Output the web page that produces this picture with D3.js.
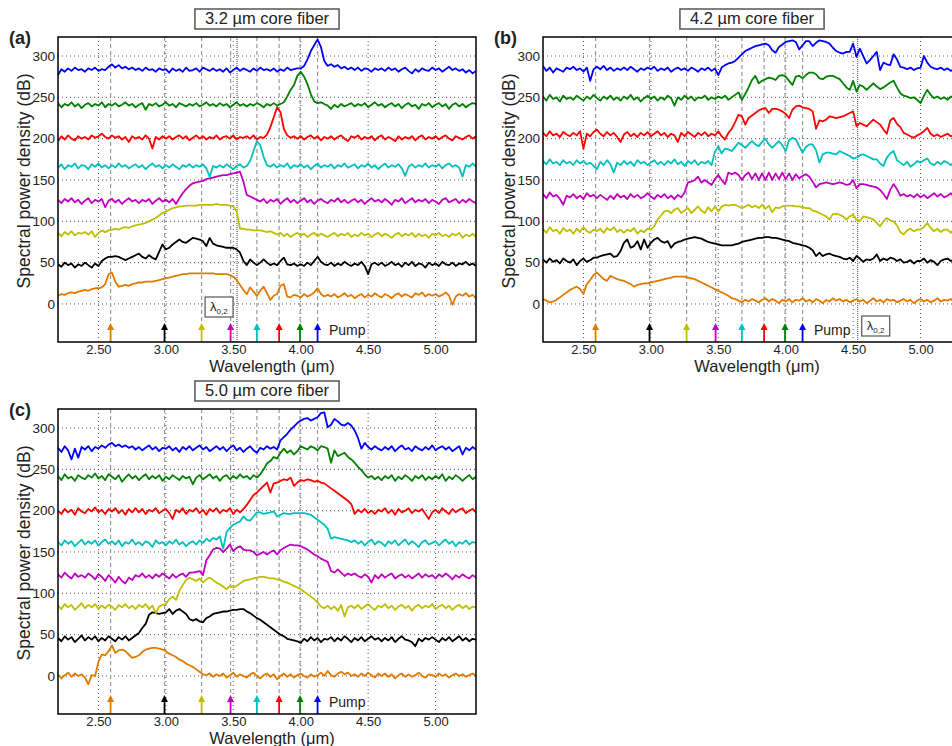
<!DOCTYPE html>
<html>
<head>
<meta charset="utf-8">
<script src="https://cdn.jsdelivr.net/npm/d3@7"></script>
<style>
  body { margin: 0; background: #fff; }
  text { font-family: "Liberation Sans", Arial, sans-serif; }
</style>
</head>
<body>
<script>
// wavelength grid (um), 2.2 .. 5.3 in 0.025 steps
var wl = d3.range(125).map(function(i) { return 2.2 + i * 0.025; });

var xTicks = [2.5, 3.0, 3.5, 4.0, 4.5, 5.0];
var yTicks = [0, 50, 100, 150, 200, 250, 300];

// pump wavelengths, one per spectrum (orange, black, yellow, magenta, cyan, red, green, blue)
var pumpWl = [2.59, 2.99, 3.265, 3.48, 3.675, 3.84, 3.995, 4.125];
var seriesColors = ["#e07b00", "#000000", "#bfbf00", "#bf00bf", "#00bfbf", "#ff0000", "#008000", "#0000ff"];

// ---- panel (a) 3.2 um core ----
var aOrange = [10,12,11,13,14,13,15,16, 17,16,18,19,19,20,24,36, 38,27,21,22,23,22,24,25, 26,26,27,27,27,28,29,30,
  31,32,33,34,35,36,36,37, 37,37,37,37,37,37,37,36, 36,36,36,35,33,29,23,17, 12,20,15,10,16,21,13,5,
  10,12,22,24,9,8,11,10, 8,12,9,11,14,19,12,9, 11,9,12,8,10,13,9,11, 7,10,12,8,11,9,13,10,
  8,12,10,7,11,13,9,12, 10,8,13,11,14,9,12,10, 12,9,11,14,10,-1,9,12, 10,13,9,11,7];
var aBlack = [48,45,50,47,49,44,48,46, 50,47,44,49,46,52,55,57, 57,58,57,55,53,55,57,59, 61,57,55,59,56,54,63,72,
  66,68,72,75,78,75,74,77, 80,79,78,76,70,80,73,71, 70,69,68,68,68,66,62,52, 47,54,50,47,50,54,50,47,
  49,47,52,56,48,47,49,46, 48,46,50,47,52,57,51,48, 47,50,46,49,47,51,48,46, 49,47,51,46,36,48,50,47,
  50,46,48,51,47,49,45,50, 47,51,46,49,48,44,50,47, 49,46,51,48,47,50,46,49, 48,51,47,49,46];
var aYellow = [86,82,87,84,88,83,86,85, 87,84,88,81,86,89,87,89, 90,91,90,92,93,92,94,95, 96,97,98,100,102,104,107,110,
  112,114,116,117,118,118,119,119, 119,119,120,120,120,120,120,121, 120,120,120,119,118,112,91,91, 90,90,89,89,89,88,87,88,
  86,84,86,82,85,81,84,86, 83,85,81,84,86,82,85,83, 81,84,86,82,85,83,86,81, 84,82,86,83,85,81,84,86,
  82,85,83,80,84,86,82,85, 83,86,81,85,82,84,80,85, 83,86,82,84,81,85,83,86, 80,84,82,85,81];
var aMagenta = [126,122,127,124,128,123,126,121, 125,128,122,126,124,127,117,125, 127,123,126,121,125,128,124,126, 122,126,124,127,121,125,128,124,
  126,123,127,121,128,134,139,143, 146,147,148,149,151,152,153,154, 155,156,156,157,158,159,160,148, 132,130,128,126,124,127,122,126,
  124,127,121,125,128,123,126,122, 125,128,123,126,121,125,127,124, 122,126,124,128,123,126,122,125, 127,123,126,121,125,128,124,126,
  123,127,124,120,126,124,128,122, 125,128,123,126,124,127,122,126, 124,121,126,128,123,125,127,122, 126,123,127,124,122];
var aCyan = [165,169,163,168,166,170,164,168, 167,163,169,166,170,165,168,164, 168,165,170,166,168,164,167,169, 165,168,163,167,170,166,168,164,
  168,165,169,166,163,168,166,169, 165,168,166,169,164,154,167,165, 168,165,169,166,163,167,169,165, 167,173,185,197,192,178,168,166,
  169,165,168,166,170,164,168,166, 169,165,168,163,167,170,165,168, 166,169,164,168,166,170,165,167, 169,164,168,166,170,165,168,163,
  167,170,165,168,166,169,164,155, 166,169,165,168,166,170,165,168, 166,169,164,168,170,166,168,165, 154,168,166,170,166];
var aRed = [197,203,199,204,200,198,203,200, 202,199,204,201,203,206,202,200, 204,201,203,199,202,196,203,200, 202,199,204,200,188,202,199,203,
  200,203,199,202,204,200,203,198, 201,204,200,203,199,202,200,204, 199,202,203,200,204,199,202,201, 203,200,204,199,202,201,205,214,
  226,238,232,212,204,201,203,200, 203,199,202,204,200,203,198,202, 200,203,199,202,204,200,197,203, 201,204,199,202,200,203,198,202,
  204,199,202,200,197,203,199,202, 200,203,198,202,204,199,202,200, 203,199,202,204,200,198,203,201, 199,202,204,200,203];
var aGreen = [243,238,242,240,244,239,242,237, 241,243,239,242,240,244,238,242, 240,243,239,241,244,240,242,238, 241,243,235,242,240,243,239,241,
  244,240,242,238,243,241,239,242, 240,243,239,241,244,240,242,239, 243,240,242,238,241,244,240,242, 239,242,240,243,241,238,242,240,
  243,240,242,244,251,259,265,276, 281,275,266,254,245,243,244,242, 240,236,241,238,242,239,241,243, 239,242,240,243,238,241,244,240,
  242,238,241,243,239,242,237,241, 243,239,241,236,242,240,243,238, 241,243,239,242,236,241,243,239, 242,238,241,243,242];
var aBlue = [277,284,281,285,282,286,283,284, 281,285,283,286,282,284,283,287, 290,286,289,285,287,284,286,283, 285,282,286,283,284,281,285,283,
  284,280,285,282,284,281,286,282, 283,285,281,286,284,282,285,282, 284,281,285,280,283,286,282,285, 283,281,285,282,286,283,284,282,
  285,281,284,282,286,283,284,285, 285,288,296,306,313,320,311,294, 288,290,287,289,285,287,284,286, 283,286,282,285,284,281,285,283,
  285,282,286,283,285,281,284,286, 282,279,284,281,285,283,282,286, 283,285,281,284,287,283,285,282, 284,280,283,279,282];

// ---- panel (b) 4.2 um core ----
var bOrange = [6,4,2,3,5,8,11,14, 17,19,21,18,12,24,29,35, 38,34,30,28,34,32,30,29, 28,26,24,21,23,24,25,25,
  26,27,28,29,30,31,32,33, 33,33,33,32,31,30,28,26, 24,22,20,18,16,14,12,10, 7,6,4,2,5,3,6,4,
  2,5,7,3,6,4,1,5, 3,6,2,5,4,7,3,5, 2,6,4,1,5,3,7,4, 6,3,5,2,4,6,3,5,
  1,4,7,3,5,2,6,4, 5,2,4,6,3,5,1,4, 6,3,5,2,4,7,3,5, 4,6,2,5,3];
var bBlack = [54,50,55,51,53,49,55,52, 50,54,47,52,55,51,53,56, 56,58,59,60,61,57,58,64, 74,78,68,70,76,66,78,68,
  74,78,80,76,74,76,68,73, 75,76,78,79,80,81,80,79, 77,75,74,73,72,71,71,71, 71,72,73,75,76,77,78,79,
  80,80,81,81,80,80,79,78, 77,76,74,73,72,71,70,68, 65,58,62,58,60,61,59,58, 57,55,54,56,52,58,55,51,
  54,53,55,60,52,55,53,56, 55,52,54,50,51,53,49,52, 52,55,50,53,51,47,52,54, 55,52,54,51,53];
var bYellow = [91,86,93,88,90,85,92,88, 90,85,91,87,93,88,86,90, 88,91,86,92,89,93,87,90, 86,90,88,92,85,89,87,91,
  90,94,102,107,112,113,110,114, 116,110,113,116,110,114,118,113, 110,117,112,118,112,118,120,119, 120,120,118,116,118,120,117,119,
  116,120,115,119,111,117,116,118, 119,119,119,118,118,117,116,116, 113,112,110,108,106,102,109,109, 108,106,102,106,108,102,100,106,
  105,104,102,98,94,100,104,101, 100,95,87,84,89,91,88,90, 90,93,98,92,88,91,87,90, 90,86,91,88,90];
var bMagenta = [133,128,135,130,132,127,120,131, 129,133,128,131,127,134,130,132, 128,132,129,126,131,127,133,129, 131,127,133,129,132,128,130,134,
  130,127,132,129,133,128,131,127, 132,129,135,147,148,150,154,147, 150,147,144,151,156,150,145,159, 157,159,156,150,156,159,151,158,
  150,158,150,159,150,158,151,159, 151,158,150,157,152,155,157,154, 148,141,145,146,147,146,145,146, 147,146,144,145,150,140,145,145,
  144,143,142,141,138,133,127,138, 145,139,131,133,130,132,129,133, 129,132,128,131,134,130,133,129, 131,134,129,132,130];
var bCyan = [173,169,175,170,172,168,174,170, 172,168,174,170,173,169,171,167, 163,172,168,174,169,159,171,168, 173,169,172,167,174,170,172,168,
  171,174,169,172,168,173,170,175, 169,172,167,173,170,174,168,172, 170,173,168,184,191,182,188,187, 185,190,195,192,189,193,197,193,
  191,196,200,193,189,193,197,192, 185,198,201,199,191,183,190,193, 193,186,171,181,183,183,182,181, 185,183,181,179,176,177,180,181,
  179,177,175,175,170,167,177,182, 185,174,171,168,172,166,169,173, 171,174,176,170,168,172,169,173, 171,168,172,170,173];
var bRed = [207,203,209,204,206,202,208,205, 203,207,204,209,188,206,203,208, 211,206,203,208,204,207,202,196, 205,208,203,206,202,207,204,208,
  203,206,209,204,207,202,206,204, 196,207,203,208,205,202,207,204, 208,203,206,204,209,203,199,207, 212,220,229,227,217,225,228,231,
  234,236,237,231,236,236,235,233, 230,225,235,239,240,238,237,236, 233,212,222,221,223,227,226,225, 226,227,229,231,233,215,219,217,
  215,219,223,220,217,211,206,222, 225,218,214,207,205,203,201,204, 206,209,213,206,203,205,202,204, 206,203,205,202,204];
var bGreen = [251,246,253,248,250,245,252,248, 250,247,252,249,246,251,248,253, 249,246,251,248,252,247,250,246, 251,248,253,247,250,245,249,252,
  248,251,246,250,247,252,249,240, 250,247,252,248,251,246,250,249, 252,247,250,248,251,249,252,247, 250,253,256,247,254,262,271,276,
  267,270,272,274,273,271,276,277, 275,270,265,275,276,273,277,280, 280,278,273,272,275,276,276,274, 272,267,262,259,270,257,265,263,
  259,263,267,263,260,262,265,268, 270,262,255,252,251,249,250,247, 243,252,259,253,249,251,248,250, 247,251,249,252,248];
var bBlue = [288,282,286,280,285,283,281,286, 284,287,283,285,281,286,270,284, 287,284,288,283,286,282,285,283, 286,283,287,284,281,285,283,286,
  284,287,282,285,283,286,281,284, 286,283,285,282,286,284,281,285, 283,286,282,285,277,286,289,291, 292,294,298,302,306,308,310,312,
  313,314,315,313,307,304,311,314, 317,318,319,317,308,313,318,318, 312,316,319,318,317,315,310,306, 304,303,305,305,315,299,309,300,
  291,295,300,305,283,292,290,289, 302,296,287,286,284,286,283,285, 286,300,292,287,285,284,286,283, 285,282,284,281,283];

// ---- panel (c) 5.0 um core ----
var cOrange = [2,-3,1,4,-1,3,0,2, -2,-10,1,0,17,26,25,30, 37,28,31,32,30,26,22,23, 25,29,32,33,34,34,33,32,
  30,27,25,23,20,18,15,13, 11,8,5,2,1,3,-1,2, 0,3,-2,1,4,-1,2,0, -2,2,4,0,-3,1,3,-1,
  2,-4,0,3,-1,2,-2,1, 3,0,-2,2,-1,1,4,0, 6,1,-1,3,5,2,4,0, 2,-1,3,0,4,1,-2,3,
  0,3,-1,2,-3,1,3,-1, 2,-1,1,4,0,-2,2,1, -1,3,0,2,-2,1,3,0, 2,-1,1,3,0];
var cBlack = [46,42,48,44,47,41,45,49, 43,47,44,48,42,46,43,48, 45,42,47,44,48,43,46,49, 52,58,63,74,77,76,75,76,
  77,81,75,79,81,78,75,69, 67,69,66,65,70,72,75,76, 77,78,78,79,80,80,81,81, 78,76,73,70,68,65,62,59,
  56,53,50,48,45,44,43,42, 40,45,42,47,43,46,41,45, 44,47,42,46,43,48,45,41, 46,43,47,42,45,48,44,46,
  42,46,43,47,41,45,48,44, 43,41,36,45,42,46,44,47, 44,41,46,43,47,42,45,48, 43,46,42,45,44];
var cYellow = [85,81,87,83,86,80,84,88, 82,86,83,87,81,85,82,86, 84,80,86,83,87,82,85,81, 86,83,87,81,85,76,84,86,
  87,93,96,92,103,110,116,119, 117,115,118,113,117,119,116,113, 111,108,105,109,107,109,112,115, 116,117,118,119,120,120,119,118,
  118,117,116,114,113,111,109,107, 105,102,99,96,93,89,84,82, 85,81,84,79,86,72,83,85, 82,86,81,84,87,83,80,85,
  83,87,82,85,80,84,86,82, 85,79,84,86,82,85,83,87, 81,84,86,82,85,80,84,86, 82,85,81,84,83];
var cMagenta = [123,119,125,121,118,124,120,122, 119,124,121,117,123,120,115,122, 118,113,120,115,112,119,116,122, 120,124,119,122,118,123,120,124,
  121,118,123,119,122,124,120,125, 125,126,127,122,140,146,153,155, 154,150,154,159,151,155,157,153, 152,152,150,146,148,150,147,150,
  152,147,152,155,157,159,158,158, 157,155,153,150,147,145,142,140, 138,127,125,129,125,121,124,122, 124,121,119,123,120,113,122,118,
  123,119,122,124,118,121,123,119, 122,118,121,124,119,123,120,122, 118,123,120,124,121,117,122,119, 123,120,118,122,119];
var cCyan = [162,158,164,160,163,157,161,165, 159,163,160,164,158,162,165,160, 163,159,164,157,162,160,165,159, 162,158,163,161,156,164,160,162,
  158,163,160,165,159,162,157,161, 163,159,164,161,166,163,167,165, 169,154,174,179,183,185,187,193, 189,188,193,198,198,196,197,198,
  199,193,195,197,196,196,197,197, 197,197,196,195,192,189,186,183, 178,166,168,167,166,165,164,162, 164,160,163,158,162,165,159,163,
  161,157,163,160,164,158,162,165, 159,163,160,156,162,164,159,161, 163,158,162,165,160,163,157,162, 160,164,159,162,161];
var cRed = [200,196,202,198,201,195,203,199, 197,202,199,204,198,201,196,202, 199,203,197,201,195,202,198,203, 198,202,196,201,199,203,197,200,
  202,197,190,201,198,203,196,201, 199,203,197,201,195,202,199,203, 197,201,199,203,196,201,198,202, 207,213,219,222,226,230,234,222,
  233,234,236,238,237,240,230,234, 237,236,238,237,235,236,234,233, 230,227,224,221,218,215,212,208, 196,201,198,202,197,200,196,201,
  199,203,197,201,195,202,198,200, 203,197,201,199,202,196,190,198, 201,197,203,199,196,202,198,201, 203,197,200,202,198];
var cGreen = [242,237,244,239,241,236,243,240, 238,243,240,245,239,242,237,244, 241,238,243,235,240,244,239,242, 237,241,244,238,242,239,243,236,
  241,238,243,240,237,242,239,241, 232,240,243,238,241,244,239,242, 236,241,243,238,242,239,244,240, 242,238,243,240,244,250,257,260,
  265,263,270,275,270,273,268,272, 278,276,274,278,276,273,278,277, 275,258,273,266,268,270,265,262, 258,253,249,244,240,242,238,241,
  237,242,239,243,236,241,238,243, 240,236,242,239,243,237,241,238, 242,239,244,236,241,238,243,240, 236,240,243,238,241];
var cBlue = [276,271,278,273,262,275,264,277, 274,278,272,277,275,279,276,280, 282,278,280,277,279,276,278,274, 277,273,276,279,274,277,272,276,
  275,278,273,276,271,277,274,278, 273,276,279,274,277,272,275,278, 274,277,272,276,279,273,276,271, 275,278,273,270,276,274,278,275,
  277,274,285,289,293,298,302,306, 309,311,312,309,311,313,318,319, 301,304,311,308,304,303,306,303, 297,288,275,282,277,274,278,275,
  273,277,274,278,272,276,279,274, 276,272,278,275,273,277,274,279, 273,276,278,274,277,272,275,278, 268,276,273,277,274];

var panels = [
  { label: "(a)", title: "3.2 \u00b5m core fiber", left: 58, top: 37,
    series: [aOrange, aBlack, aYellow, aMagenta, aCyan, aRed, aGreen, aBlue],
    lambda02: 3.528, lamBoxSide: "left", pumpX: 329 - 58 },
  { label: "(b)", title: "4.2 \u00b5m core fiber", left: 543, top: 37,
    series: [bOrange, bBlack, bYellow, bMagenta, bCyan, bRed, bGreen, bBlue],
    lambda02: 4.534, lamBoxSide: "right", pumpX: 814 - 543 },
  { label: "(c)", title: "5.0 \u00b5m core fiber", left: 58, top: 409,
    series: [cOrange, cBlack, cYellow, cMagenta, cCyan, cRed, cGreen, cBlue],
    lambda02: null, pumpX: 329 - 58 }
];

var W = 418, H = 305;

var svg = d3.select("body").append("svg")
    .attr("width", 952)
    .attr("height", 746);

panels.forEach(function(p, pi) {
  var x = d3.scaleLinear().domain([2.2, 5.3]).range([0, W]);
  var y = d3.scaleLinear().domain([-46, 323]).range([H, 0]);

  var g = svg.append("g")
      .attr("transform", "translate(" + p.left + "," + p.top + ")");

  g.append("clipPath")
      .attr("id", "clip" + pi)
      .append("rect")
      .attr("x", 0).attr("y", 0)
      .attr("width", W).attr("height", H);

  // grid
  g.selectAll(".vgrid").data(xTicks).enter().append("line")
      .attr("x1", function(d) { return x(d); })
      .attr("x2", function(d) { return x(d); })
      .attr("y1", 0).attr("y2", H)
      .attr("stroke", "#555").attr("stroke-width", 1)
      .attr("stroke-dasharray", "1,3");
  g.selectAll(".hgrid").data(yTicks).enter().append("line")
      .attr("x1", 0).attr("x2", W)
      .attr("y1", function(d) { return y(d); })
      .attr("y2", function(d) { return y(d); })
      .attr("stroke", "#555").attr("stroke-width", 1)
      .attr("stroke-dasharray", "1,3");

  // pump dashed guides
  g.selectAll(".pumpline").data(pumpWl).enter().append("line")
      .attr("x1", function(d) { return x(d); })
      .attr("x2", function(d) { return x(d); })
      .attr("y1", 0).attr("y2", H - 19)
      .attr("stroke", "#999").attr("stroke-width", 1.2)
      .attr("stroke-dasharray", "4,3");

  // lambda 0,2 marker
  if (p.lambda02 !== null) {
    g.append("line")
        .attr("x1", x(p.lambda02)).attr("x2", x(p.lambda02))
        .attr("y1", 0).attr("y2", H)
        .attr("stroke", "#444").attr("stroke-width", 1)
        .attr("stroke-dasharray", "1,1");
    var bx = p.lamBoxSide === "left" ? x(p.lambda02) - 32 : x(p.lambda02) + 4;
    var by = p.lamBoxSide === "left" ? 260 : 279;
    g.append("rect")
        .attr("x", bx).attr("y", by)
        .attr("width", 28).attr("height", 20)
        .attr("fill", "#fff").attr("stroke", "#555").attr("stroke-width", 1.2);
    var lt = g.append("text")
        .attr("x", bx + 5).attr("y", by + 14)
        .attr("font-size", 13).attr("fill", "#222");
    lt.append("tspan").text("\u03bb");
    lt.append("tspan").attr("font-size", 8).attr("dy", 3).text("0,2");
  }

  // spectra
  var line = d3.line()
      .x(function(d, i) { return x(wl[i]); })
      .y(function(d) { return y(d); });

  g.append("g").attr("clip-path", "url(#clip" + pi + ")")
    .selectAll("path").data(p.series).enter().append("path")
      .attr("d", line)
      .attr("fill", "none")
      .attr("stroke", function(d, i) { return seriesColors[i]; })
      .attr("stroke-width", 1.8)
      .attr("stroke-linejoin", "round");

  // pump arrows
  var arrows = g.selectAll(".arrow").data(pumpWl).enter().append("g");
  arrows.append("line")
      .attr("x1", function(d) { return x(d); })
      .attr("x2", function(d) { return x(d); })
      .attr("y1", H).attr("y2", H - 14)
      .attr("stroke", function(d, i) { return seriesColors[i]; })
      .attr("stroke-width", 1.8);
  arrows.append("path")
      .attr("d", function(d) {
        var cx = x(d);
        return "M" + (cx - 3.5) + "," + (H - 12) + "L" + cx + "," + (H - 19) + "L" + (cx + 3.5) + "," + (H - 12) + "Z";
      })
      .attr("fill", function(d, i) { return seriesColors[i]; });

  g.append("text")
      .attr("x", p.pumpX).attr("y", H - 7)
      .attr("font-size", 14).attr("fill", "#222")
      .text("Pump");

  // axes
  g.append("g")
      .attr("transform", "translate(0," + H + ")")
      .call(d3.axisBottom(x).tickValues(xTicks).tickFormat(d3.format(".2f")).tickSize(0).tickPadding(3))
      .call(function(a) { a.select(".domain").remove(); })
      .selectAll("text").attr("font-size", 13).attr("fill", "#222")
      .style("font-family", "Liberation Sans, Arial, sans-serif");
  g.append("g")
      .call(d3.axisLeft(y).tickValues(yTicks).tickSize(0).tickPadding(3))
      .call(function(a) { a.select(".domain").remove(); })
      .selectAll("text").attr("font-size", 13.5).attr("fill", "#222")
      .style("font-family", "Liberation Sans, Arial, sans-serif");

  // frame
  g.append("rect")
      .attr("x", 0).attr("y", 0).attr("width", W).attr("height", H)
      .attr("fill", "none").attr("stroke", "#000").attr("stroke-width", 1.5);

  // axis titles
  g.append("text")
      .attr("x", W / 2 + 5).attr("y", H + 30)
      .attr("text-anchor", "middle").attr("font-size", 16.5).attr("fill", "#222")
      .text("Wavelength (\u03bcm)");
  g.append("text")
      .attr("transform", "translate(-28," + 144 + ") rotate(-90)")
      .attr("text-anchor", "middle").attr("font-size", 17.5).attr("fill", "#222")
      .text("Spectral power density (dB)");

  // panel label
  g.append("text")
      .attr("x", -49).attr("y", 7)
      .attr("font-size", 18).attr("font-weight", "bold").attr("fill", "#222")
      .text(p.label);

  // title box
  var tt = g.append("text")
      .attr("x", 209).attr("y", -13)
      .attr("text-anchor", "middle").attr("font-size", 16.5).attr("fill", "#222")
      .text(p.title);
  var tw = tt.node().getComputedTextLength();
  g.insert("rect", "text")
      .attr("x", 209 - tw / 2 - 10).attr("y", -28)
      .attr("width", tw + 20).attr("height", 20)
      .attr("fill", "#fff").attr("stroke", "#555").attr("stroke-width", 1.5);
});
</script>
</body>
</html>
